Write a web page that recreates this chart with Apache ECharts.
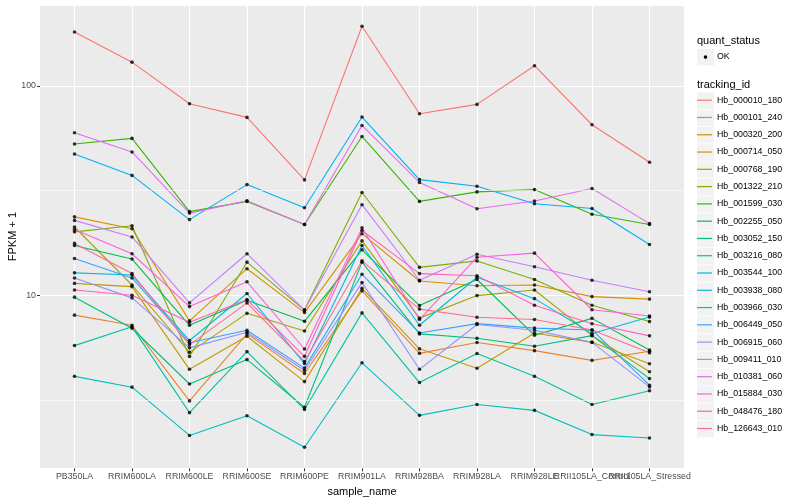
<!DOCTYPE html>
<html><head><meta charset="utf-8">
<script src="https://cdn.jsdelivr.net/npm/echarts@6/dist/echarts.min.js"></script>
<style>html,body{margin:0;padding:0;background:#fff}#c{width:800px;height:500px}</style>
</head><body><div id="c"></div>
<script>
// ---------- data ----------
const categories = ['PB350LA','RRIM600LA','RRIM600LE','RRIM600SE','RRIM600PE','RRIM901LA','RRIM928BA','RRIM928LA','RRIM928LE','RRII105LA_Control','RRII105LA_Stressed'];
const trackingIds = ['Hb_000010_180','Hb_000101_240','Hb_000320_200','Hb_000714_050','Hb_000768_190','Hb_001322_210','Hb_001599_030','Hb_002255_050','Hb_003052_150','Hb_003216_080','Hb_003544_100','Hb_003938_080','Hb_003966_030','Hb_006449_050','Hb_006915_060','Hb_009411_010','Hb_010381_060','Hb_015884_030','Hb_048476_180','Hb_126643_010'];
const palette = ['#F8766D','#EA8331','#D89000','#C09B00','#A3A500','#7CAE00','#39B600','#00BB4E','#00BF7D','#00C1A3','#00BFC4','#00BAE0','#00B0F6','#35A2FF','#9590FF','#C77CFF','#E76BF3','#FA62DB','#FF62BC','#FF6C91'];
const yMinorValues = [3.1623, 31.623];

const Hb_000010_180 = [181, 130, 82.3, 70.8, 35.6, 193, 73.7, 81.7, 125, 65.3, 43.2];
const Hb_000101_240 = [8.04, 7.19, 3.13, 6.54, 4.23, 10.5, 5.28, 5.95, 5.44, 4.89, 5.40];
const Hb_000320_200 = [23.7, 20.8, 7.55, 13.4, 8.27, 19.7, 11.7, 11.1, 11.2, 9.86, 9.59];
const Hb_000714_050 = [11.4, 11.0, 4.43, 6.37, 3.87, 10.8, 5.55, 4.48, 6.60, 5.96, 4.71];
const Hb_000768_190 = [21.2, 11.2, 5.34, 8.20, 6.75, 18.2, 7.78, 9.97, 10.6, 6.42, 4.31];
const Hb_001322_210 = [20.1, 21.5, 5.10, 14.4, 8.50, 31.0, 13.6, 14.6, 11.9, 8.96, 7.49];
const Hb_001599_030 = [52.8, 56.2, 25.1, 28.1, 21.8, 57.4, 28.1, 31.2, 32.0, 24.4, 21.8];
const Hb_002255_050 = [17.3, 14.9, 7.19, 9.46, 7.51, 16.5, 8.93, 11.9, 6.44, 7.76, 5.48];
const Hb_003052_150 = [9.80, 6.96, 3.77, 4.93, 2.92, 14.4, 6.54, 6.23, 5.71, 6.42, 4.00];
const Hb_003216_080 = [5.75, 7.07, 2.75, 5.38, 2.85, 8.24, 3.83, 5.27, 4.10, 3.01, 3.50];
const Hb_003544_100 = [4.10, 3.64, 2.14, 2.66, 1.88, 4.76, 2.67, 3.01, 2.82, 2.16, 2.08];
const Hb_003938_080 = [12.8, 12.5, 6.08, 10.2, 4.72, 17.3, 7.19, 12.2, 9.64, 6.57, 7.87];
const Hb_003966_030 = [47.3, 37.4, 23.0, 33.8, 26.2, 71.1, 35.7, 33.2, 27.4, 26.0, 17.5];
const Hb_006449_050 = [15.0, 12.1, 5.93, 6.81, 4.49, 12.6, 6.61, 7.32, 6.97, 6.83, 3.72];
const Hb_006915_060 = [12.1, 9.72, 5.61, 6.66, 4.37, 11.5, 4.43, 7.25, 6.81, 5.96, 3.65];
const Hb_009411_010 = [22.8, 19.0, 9.20, 15.8, 8.50, 27.1, 11.8, 15.7, 13.7, 11.8, 10.4];
const Hb_010381_060 = [59.8, 48.4, 24.7, 28.3, 21.8, 64.8, 34.6, 25.9, 28.2, 32.4, 22.0];
const Hb_015884_030 = [20.6, 15.8, 8.83, 11.6, 5.54, 21.0, 7.66, 15.2, 15.9, 8.53, 7.96];
const Hb_048476_180 = [10.6, 10.0, 7.43, 9.54, 5.11, 20.4, 12.7, 12.4, 8.96, 7.31, 6.40];
const Hb_126643_010 = [17.7, 12.7, 5.80, 9.20, 4.83, 14.6, 8.59, 7.85, 7.66, 6.83, 5.31];

const seriesValues = [Hb_000010_180, Hb_000101_240, Hb_000320_200, Hb_000714_050, Hb_000768_190, Hb_001322_210, Hb_001599_030, Hb_002255_050, Hb_003052_150, Hb_003216_080, Hb_003544_100, Hb_003938_080, Hb_003966_030, Hb_006449_050, Hb_006915_060, Hb_009411_010, Hb_010381_060, Hb_015884_030, Hb_048476_180, Hb_126643_010];

// ---------- chart ----------
const FONT = '"Liberation Sans", Arial, Helvetica, sans-serif';
const chart = echarts.init(document.getElementById('c'), null, {renderer: 'canvas'});

const lineSeries = trackingIds.map((id, k) => ({
  name: id,
  type: 'line',
  showSymbol: false,
  symbol: 'none',
  silent: true,
  lineStyle: {width: 1.1, color: palette[k]},
  itemStyle: {color: palette[k]},
  data: seriesValues[k].map((v, i) => [i, v]),
  z: 3
}));

const points = [];
seriesValues.forEach(arr => arr.forEach((v, i) => points.push([i, v])));

const gridLineSeries = {
  type: 'line', data: [], silent: true, z: 1,
  markLine: {
    silent: true, symbol: 'none', label: {show: false}, animation: false,
    lineStyle: {color: '#FFFFFF', width: 0.6, type: 'solid'},
    data: yMinorValues.map(v => ({yAxis: v}))
  }
};

// category positions; the two overlapping labels are split over two axes so both stay visible
const catIdx = categories.map((c, i) => i);
const labelsA = catIdx.filter(i => i !== 9);
const labelsB = [9];

const keyTop = 92.4, keyStep = 17.28;
const graphics = [
  {type: 'text', x: 12.5, y: 236.6, rotation: Math.PI / 2, style: {text: 'FPKM + 1', font: '11px ' + FONT, fill: '#000', align: 'center', verticalAlign: 'middle'}},
  {type: 'text', left: 697, top: 35.5, style: {text: 'quant_status', font: '11px ' + FONT, fill: '#000'}},
  {type: 'rect', shape: {x: 697, y: 48.8, width: 17, height: 16.6}, style: {fill: '#F2F2F2'}, z: 0},
  {type: 'circle', shape: {cx: 705.5, cy: 57.1, r: 1.8}, style: {fill: '#000'}, z: 5},
  {type: 'text', left: 717, top: 52.3, style: {text: 'OK', font: '8.8px ' + FONT, fill: '#000'}},
  {type: 'text', left: 697, top: 79, style: {text: 'tracking_id', font: '11px ' + FONT, fill: '#000'}}
];
trackingIds.forEach((id, k) => {
  graphics.push({type: 'rect', shape: {x: 697, y: keyTop + k * keyStep, width: 17, height: 16.6}, style: {fill: '#F2F2F2'}, z: 0});
});

const xLabelStyle = {fontSize: 8.8, color: '#4D4D4D', margin: 4, fontFamily: FONT, hideOverlap: false, showMinLabel: true, showMaxLabel: true, formatter: v => categories[Math.round(v)]};

chart.setOption({
  animation: false,
  backgroundColor: '#FFFFFF',
  color: palette,
  textStyle: {fontFamily: FONT},
  grid: {left: 40, top: 5, width: 644, height: 463.3, show: true, backgroundColor: '#EBEBEB', borderWidth: 0, containLabel: false, outerBoundsMode: 'none'},
  xAxis: [{
    type: 'value', min: -0.6, max: 10.6, position: 'bottom',
    name: 'sample_name', nameLocation: 'middle', nameGap: 12,
    nameTextStyle: {fontSize: 11, color: '#000', fontFamily: FONT},
    axisLine: {show: false, onZero: false},
    axisTick: {show: true, length: 3, lineStyle: {color: '#333333', width: 1}, customValues: catIdx},
    axisLabel: Object.assign({customValues: labelsA}, xLabelStyle),
    splitLine: {show: true, lineStyle: {color: '#FFFFFF', width: 1.1}}
  }, {
    type: 'value', min: -0.6, max: 10.6, position: 'bottom', offset: 0,
    axisLine: {show: false, onZero: false}, axisTick: {show: false}, splitLine: {show: false},
    axisLabel: Object.assign({customValues: labelsB}, xLabelStyle)
  }],
  yAxis: {
    type: 'log', logBase: 10, min: 1.491, max: 243.8, position: 'left',
    axisLine: {show: false, onZero: false},
    axisTick: {show: true, length: 3, lineStyle: {color: '#333333', width: 1}},
    axisLabel: {fontSize: 8.8, color: '#4D4D4D', margin: 4, fontFamily: FONT, showMinLabel: false, showMaxLabel: false, formatter: v => String(Math.round(v))},
    splitLine: {show: true, lineStyle: {color: '#FFFFFF', width: 1.1}}
  },
  legend: {
    orient: 'vertical', left: 697, top: keyTop - 0.2, padding: 0,
    itemWidth: 15, itemHeight: 16, itemGap: keyStep - 16,
    icon: 'path://M0,0 M0,7.4 L15,7.4 L15,8.6 L0,8.6 Z M15,16',
    selectedMode: false,
    textStyle: {fontSize: 8.8, color: '#000', fontFamily: FONT},
    data: trackingIds
  },
  graphic: graphics,
  series: [gridLineSeries].concat(lineSeries).concat([{
    name: 'OK', type: 'scatter', symbol: 'circle', symbolSize: 3.6, silent: true,
    itemStyle: {color: '#000000'}, data: points, z: 10
  }])
});
</script></body></html>
